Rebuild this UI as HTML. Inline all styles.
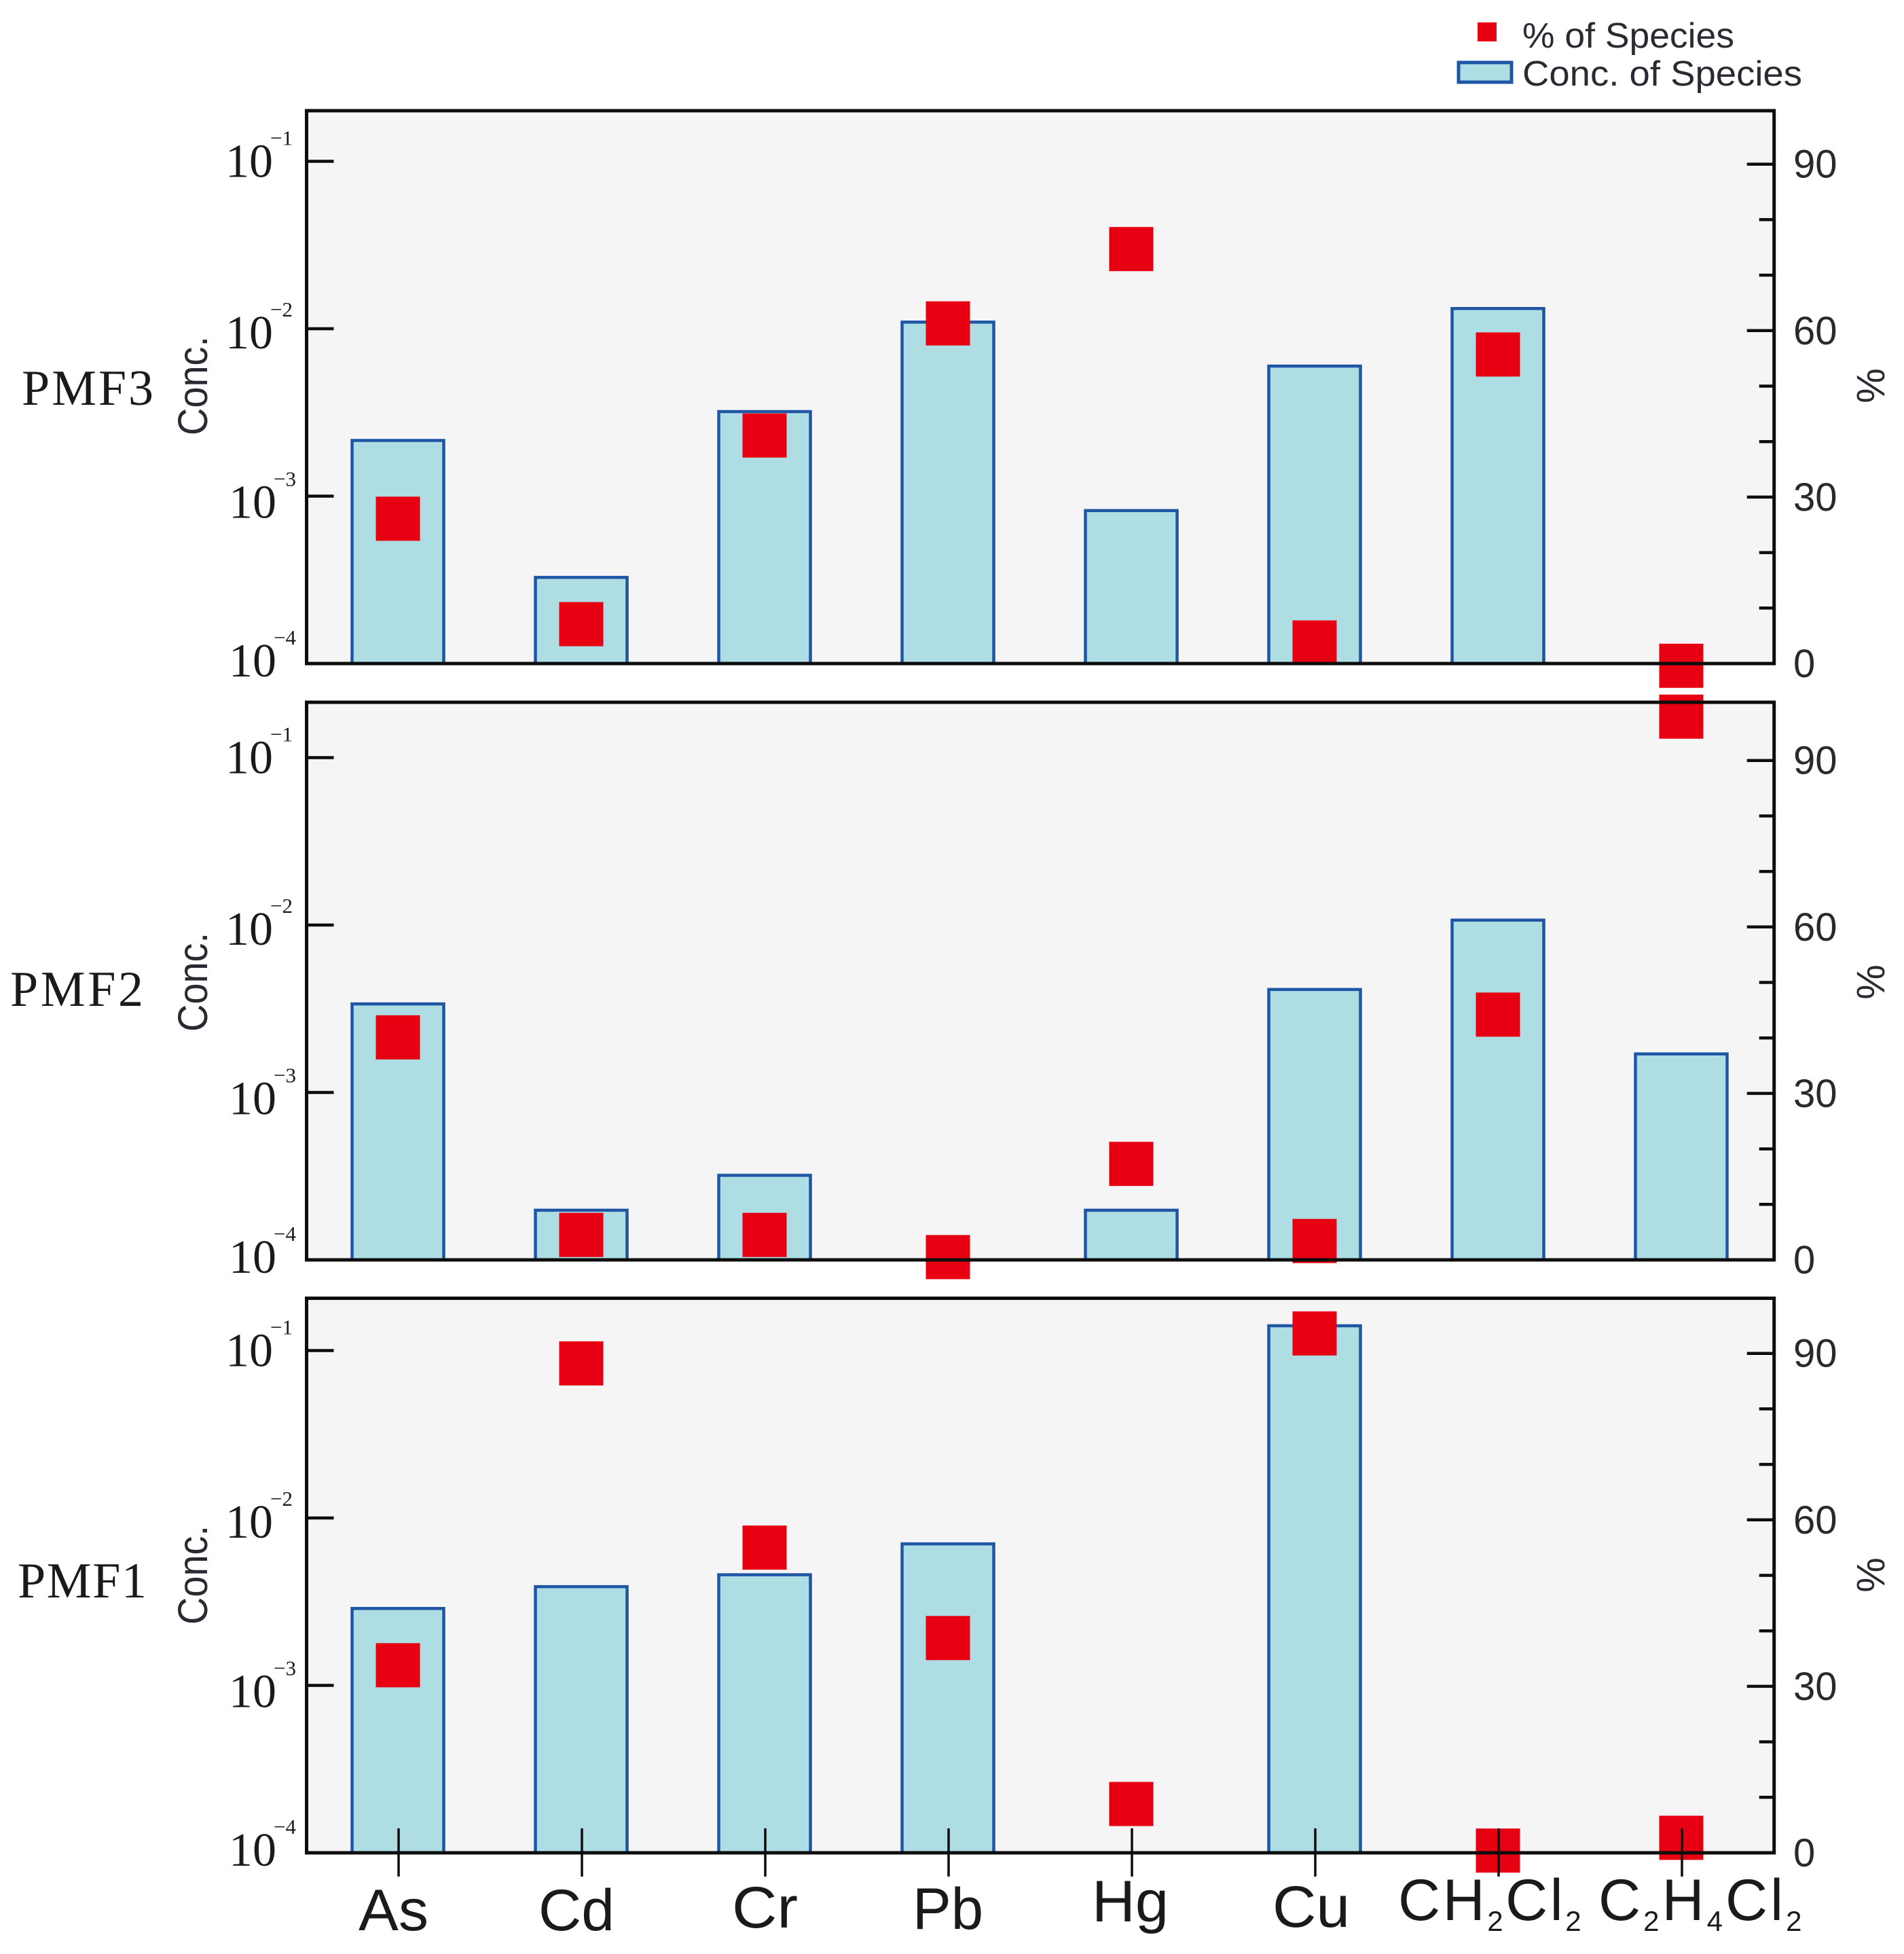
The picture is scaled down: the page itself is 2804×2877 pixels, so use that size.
<!DOCTYPE html>
<html lang="en">
<head>
<meta charset="utf-8">
<title>PMF factor profiles</title>
<style>
html,body{margin:0;padding:0;background:#fff;width:2804px;height:2877px;overflow:hidden}
svg{display:block}
.sans{font-family:"Liberation Sans",sans-serif}
.serif{font-family:"Liberation Serif",serif}
</style>
</head>
<body>
<svg id="chart" xmlns="http://www.w3.org/2000/svg" width="2804" height="2877" viewBox="0 0 2804 2877">
  <rect x="0" y="0" width="2804" height="2877" fill="#ffffff"/>
  <g id="panels"></g>
  <g>
    <rect x="2176" y="33" width="28" height="28" fill="#e60012"/>
    <text class="sans" x="2242" y="70" font-size="52" fill="#2a2a33" textLength="312" lengthAdjust="spacingAndGlyphs">% of Species</text>
    <rect x="2148" y="92" width="78" height="29" fill="#aedde3" stroke="#1f55a5" stroke-width="5"/>
    <text class="sans" x="2242" y="126" font-size="52" fill="#2a2a33" textLength="412" lengthAdjust="spacingAndGlyphs">Conc. of Species</text>
  </g>
  <g class="serif" font-size="74" fill="#1a1a1a">
    <text x="32" y="596" textLength="194">PMF3</text>
    <text x="15" y="1481" textLength="196">PMF2</text>
    <text x="26" y="2352" textLength="190">PMF1</text>
  </g>
  <g class="sans" font-size="86" fill="#1a1a1a">
    <text x="528" y="2842" textLength="103" lengthAdjust="spacingAndGlyphs">As</text>
    <text x="793" y="2842" textLength="112" lengthAdjust="spacingAndGlyphs">Cd</text>
    <text x="1078" y="2838" textLength="97" lengthAdjust="spacingAndGlyphs">Cr</text>
    <text x="1344" y="2840" textLength="104" lengthAdjust="spacingAndGlyphs">Pb</text>
    <text x="1608" y="2829" textLength="113" lengthAdjust="spacingAndGlyphs">Hg</text>
    <text x="1874" y="2837" textLength="114" lengthAdjust="spacingAndGlyphs">Cu</text>
    <text x="2059" y="2827" letter-spacing="3.5">CH<tspan font-size="42" dy="16">2</tspan><tspan dy="-16">Cl</tspan><tspan font-size="42" dy="16">2</tspan></text>
    <text x="2354" y="2827" letter-spacing="4">C<tspan font-size="42" dy="16">2</tspan><tspan dy="-16">H</tspan><tspan font-size="42" dy="16">4</tspan><tspan dy="-16">Cl</tspan><tspan font-size="42" dy="16">2</tspan></text>
  </g>
</svg>
<script>
const categories = ["As", "Cd", "Cr", "Pb", "Hg", "Cu", "CH2Cl2", "C2H4Cl2"];
const pmf3Conc = [2.15e-3, 3.27e-4, 3.2e-3, 1.095e-2, 8.2e-4, 5.98e-3, 1.32e-2, null];
const pmf3Pct = [26.1, 7.1, 41.1, 61.3, 74.7, 3.8, 55.7, -0.4];
const pmf2Conc = [3.38e-3, 1.98e-4, 3.2e-4, null, 1.98e-4, 4.12e-3, 1.07e-2, 1.7e-3];
const pmf2Pct = [40.1, 4.5, 4.5, 0.5, 17.3, 3.4, 44.2, 97.9];
const pmf1Conc = [2.88e-3, 3.89e-3, 4.58e-3, 7.0e-3, null, 0.1406, null, null];
const pmf1Pct = [33.8, 88.2, 55, 38.7, 8.8, 93.6, 0.4, 2.7];
const concTickExponents = [-1, -2, -3, -4];
const pctMajorTicks = [0, 30, 60, 90];
const pctMinorTicks = [10, 20, 40, 50, 70, 80];

const NS = "http://www.w3.org/2000/svg";
const PLOT_LEFT = 451.5, PLOT_RIGHT = 2612.7;
const DECADE_PX = 246.5, PCT_PX = 8.17;
const BAR_W = 135, MARKER = 65;
const X0 = 586, X_STEP = 270;
const root = document.getElementById("panels");

function xCat(i) { return X0 + X_STEP * i; }
function yConc(v, bottom) { return bottom - (Math.log10(v) + 4) * DECADE_PX; }
function yPct(p, bottom) { return bottom - p * PCT_PX; }
function mk(parent, tag, attrs, text) {
  const n = document.createElementNS(NS, tag);
  for (const k in attrs) n.setAttribute(k, attrs[k]);
  if (text !== undefined) n.textContent = text;
  parent.appendChild(n);
  return n;
}
function tickNudgeY(exp) { return exp === -1 ? 23 : exp === -2 ? 29 : exp === -3 ? 32 : 19; }
function tickNudgeX(exp) { return exp <= -3 ? 5 : 0; }

function drawPanel(id, top, bottom, conc, pct) {
  const g = mk(root, "g", {});
  
  

  let el = mk(g, "rect", {x: PLOT_LEFT, y: top, width: PLOT_RIGHT - PLOT_LEFT, height: bottom - top, fill: "#f5f5f5"});
  
  

  conc.forEach(function (v, i) {
    if (v === null) return;
    const x = xCat(i), t = yConc(v, bottom);
    const bar = mk(g, "path", {
      d: "M" + (x - BAR_W / 2) + " " + bottom + "V" + t + "H" + (x + BAR_W / 2) + "V" + bottom,
      fill: "#aedde3", stroke: "#1f55a5", "stroke-width": 4.5
    });
    
    
  });

  pct.forEach(function (p, i) {
    const m = mk(g, "rect", {
      x: xCat(i) - MARKER / 2, y: yPct(p, bottom) - MARKER / 2,
      width: MARKER, height: MARKER, fill: "#e60012"
    });
    
    
  });

  el = mk(g, "rect", {x: PLOT_LEFT, y: top, width: PLOT_RIGHT - PLOT_LEFT, height: bottom - top, fill: "none", stroke: "#0d0d0d", "stroke-width": 5});
  
  

  concTickExponents.forEach(function (e) {
    const y = yConc(Math.pow(10, e), bottom);
    if (e > -4) {
      const t = mk(g, "line", {x1: PLOT_LEFT, x2: PLOT_LEFT + 40, y1: y, y2: y, stroke: "#0d0d0d", "stroke-width": 4.5});
      
      
    }
    const lx = 332 + tickNudgeX(e), ly = y + tickNudgeY(e);
    const lab = mk(g, "text", {x: lx, y: ly, "font-size": 70, fill: "#1a1a1a", "font-family": '"Liberation Serif", serif'}, "10");
    
    
    const sup = mk(g, "text", {x: lx + 66, y: ly - 47, "font-size": 31, fill: "#1a1a1a", "font-family": '"Liberation Serif", serif'}, "\u2212" + Math.abs(e));
    
    
  });

  pctMajorTicks.forEach(function (p) {
    const y = yPct(p, bottom);
    if (p > 0) {
      const t = mk(g, "line", {x1: PLOT_RIGHT - 40, x2: PLOT_RIGHT, y1: y, y2: y, stroke: "#0d0d0d", "stroke-width": 4.5});
      
      
    }
    const lab = mk(g, "text", {x: 2641, y: y + 20, "font-size": 58, fill: "#2a2a2a", "font-family": '"Liberation Sans", sans-serif'}, String(p));
    
    
  });
  pctMinorTicks.forEach(function (p) {
    const y = yPct(p, bottom);
    const t = mk(g, "line", {x1: PLOT_RIGHT - 22, x2: PLOT_RIGHT, y1: y, y2: y, stroke: "#0d0d0d", "stroke-width": 4.5});
    
    
  });

  const cy = bottom - 409;
  const yt = mk(g, "text", {transform: "translate(305 " + cy + ") rotate(-90)", "text-anchor": "middle", "font-size": 61, fill: "#2a2a33", "font-family": '"Liberation Sans", sans-serif', textLength: 146, lengthAdjust: "spacingAndGlyphs"}, "Conc.");
  
  
  const yr = mk(g, "text", {transform: "translate(2775 " + cy + ") rotate(-90)", "text-anchor": "middle", "font-size": 58, fill: "#2a2a33", "font-family": '"Liberation Sans", sans-serif'}, "%");
  
  
}

drawPanel("pmf3", 163, 977, pmf3Conc, pmf3Pct);
drawPanel("pmf2", 1034, 1855, pmf2Conc, pmf2Pct);
drawPanel("pmf1", 1911.5, 2728, pmf1Conc, pmf1Pct);

categories.forEach(function (c, i) {
  const t = mk(root, "line", {x1: xCat(i) + 1, x2: xCat(i) + 1, y1: 2692, y2: 2763, stroke: "#0d0d0d", "stroke-width": 3.5});
  
  
});
</script>
</body>
</html>
